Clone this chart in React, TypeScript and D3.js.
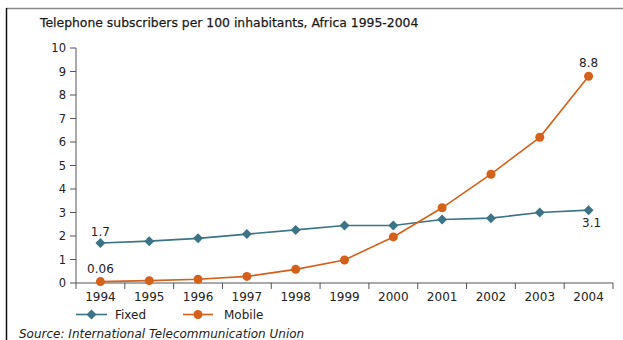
import React from "react";
import * as d3 from "d3";

const years = ["1994", "1995", "1996", "1997", "1998", "1999", "2000", "2001", "2002", "2003", "2004"];
const fixedValues = [1.7, 1.78, 1.9, 2.08, 2.26, 2.45, 2.45, 2.7, 2.76, 3.0, 3.1];
const mobileValues = [0.06, 0.1, 0.16, 0.28, 0.58, 0.98, 1.96, 3.2, 4.63, 6.2, 8.8];
const yTicks = [0, 1, 2, 3, 4, 5, 6, 7, 8, 9, 10];

const FIXED = "#3a7486";
const MOBILE = "#d4601a";
const FONT = "'DejaVu Sans', Verdana, sans-serif";

export default function App() {
  const W = 623;
  const H = 340;
  const left = 76;
  const right = 613;
  const top = 48;
  const bottom = 283;

  const x = d3.scaleBand<string>().domain(years).range([left, right]);
  const y = d3.scaleLinear().domain([0, 10]).range([bottom, top]);
  const cx = (yr: string) => (x(yr) as number) + x.bandwidth() / 2;

  const line = d3
    .line<number>()
    .x((_, i) => cx(years[i]))
    .y((v) => y(v));

  const boundaries = [...years.map((yr) => x(yr) as number), right];
  const diamond = (px: number, py: number, r: number) =>
    `M${px},${py - r}L${px + r},${py}L${px},${py + r}L${px - r},${py}Z`;

  return (
    <svg
      width={W}
      height={H}
      style={{ position: "absolute", left: 0, top: 0, background: "#fff" }}
      fontFamily={FONT}
    >
      {/* frame */}
      <line x1={6} x2={W} y1={8.5} y2={8.5} stroke="#8a8a8a" strokeWidth={1.5} />
      <line x1={6.5} x2={6.5} y1={8} y2={H} stroke="#111" strokeWidth={1.5} />

      <text x={40} y={27} fontSize={12.4} fill="#1a1a1a" stroke="#1a1a1a" strokeWidth={0.25}>
        Telephone subscribers per 100 inhabitants, Africa 1995-2004
      </text>

      {/* y axis */}
      <line x1={left} x2={left} y1={y(10)} y2={bottom} stroke="#555" />
      {yTicks.map((t) => (
        <g key={t}>
          <line x1={left - 6} x2={left} y1={y(t)} y2={y(t)} stroke="#555" />
          <text x={66} y={y(t)} dy="0.36em" textAnchor="end" fontSize={11.5} fill="#222">
            {t}
          </text>
        </g>
      ))}

      {/* x axis */}
      <line x1={left} x2={right} y1={bottom} y2={bottom} stroke="#555" />
      {boundaries.map((b, i) => (
        <line key={i} x1={b} x2={b} y1={bottom} y2={bottom + 6} stroke="#555" />
      ))}
      {years.map((yr) => (
        <text key={yr} x={cx(yr)} y={300.5} textAnchor="middle" fontSize={12} fill="#222">
          {yr}
        </text>
      ))}

      {/* fixed */}
      <path d={line(fixedValues) as string} fill="none" stroke={FIXED} strokeWidth={1.6} />
      {fixedValues.map((v, i) => (
        <path key={i} d={diamond(cx(years[i]), y(v), 5)} fill={FIXED} />
      ))}

      {/* mobile */}
      <path d={line(mobileValues) as string} fill="none" stroke={MOBILE} strokeWidth={1.6} />
      {mobileValues.map((v, i) => (
        <circle key={i} cx={cx(years[i])} cy={y(v)} r={4.5} fill={MOBILE} />
      ))}

      {/* value labels */}
      <text x={cx("1994")} y={y(fixedValues[0]) - 7} textAnchor="middle" fontSize={12} fill="#222">
        1.7
      </text>
      <text x={cx("1994")} y={y(mobileValues[0]) - 9} textAnchor="middle" fontSize={12} fill="#222">
        0.06
      </text>
      <text x={cx("2004")} y={y(mobileValues[10]) - 9} textAnchor="middle" fontSize={12} fill="#222">
        8.8
      </text>
      <text x={cx("2004") + 3} y={y(fixedValues[10]) + 17} textAnchor="middle" fontSize={12} fill="#222">
        3.1
      </text>

      {/* legend */}
      <line x1={76} x2={107} y1={314.5} y2={314.5} stroke={FIXED} strokeWidth={1.6} />
      <path d={diamond(91.5, 314.5, 5)} fill={FIXED} />
      <text x={115} y={314.5} dy="0.36em" fontSize={12} fill="#222">
        Fixed
      </text>
      <line x1={183} x2={213} y1={314.5} y2={314.5} stroke={MOBILE} strokeWidth={1.6} />
      <circle cx={198} cy={314.5} r={4.5} fill={MOBILE} />
      <text x={224} y={314.5} dy="0.36em" fontSize={12} fill="#222">
        Mobile
      </text>

      <text x={19} y={338} fontSize={12} fontStyle="italic" fill="#222">
        Source: International Telecommunication Union
      </text>
    </svg>
  );
}
